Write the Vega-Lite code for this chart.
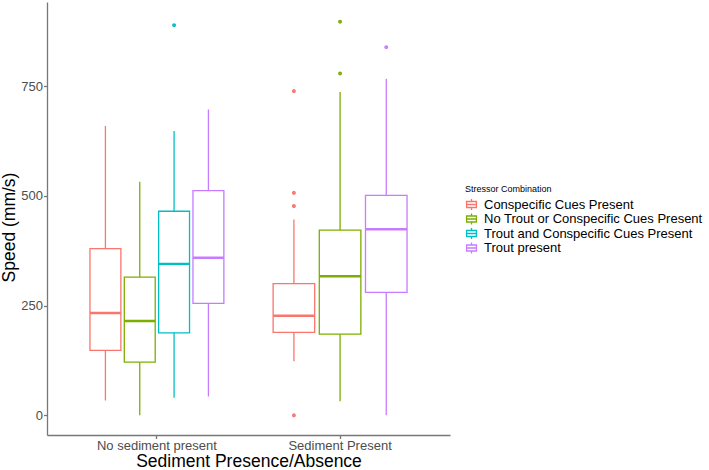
{
  "$schema": "https://vega.github.io/schema/vega-lite/v6.json",
  "width": 403,
  "height": 433,
  "autosize": "none",
  "padding": {"left": 47, "top": 2, "right": 259, "bottom": 35},
  "background": "white",
  "datasets": {
    "stats": [
      {"sed": "No sediment present", "grp": "Conspecific Cues Present", "lo": 34, "q1": 148, "med": 233, "q3": 380, "hi": 659},
      {"sed": "No sediment present", "grp": "No Trout or Conspecific Cues Present", "lo": 0, "q1": 121, "med": 215, "q3": 315, "hi": 532},
      {"sed": "No sediment present", "grp": "Trout and Conspecific Cues Present", "lo": 40, "q1": 188, "med": 345, "q3": 465, "hi": 648},
      {"sed": "No sediment present", "grp": "Trout present", "lo": 43, "q1": 255, "med": 359, "q3": 512, "hi": 697},
      {"sed": "Sediment Present", "grp": "Conspecific Cues Present", "lo": 123, "q1": 189, "med": 227, "q3": 300, "hi": 446},
      {"sed": "Sediment Present", "grp": "No Trout or Conspecific Cues Present", "lo": 32, "q1": 185, "med": 317, "q3": 422, "hi": 737},
      {"sed": "Sediment Present", "grp": "Trout present", "lo": 0, "q1": 280, "med": 424, "q3": 501, "hi": 767}
    ],
    "out": [
      {"sed": "No sediment present", "grp": "Trout and Conspecific Cues Present", "v": 889},
      {"sed": "Sediment Present", "grp": "Conspecific Cues Present", "v": 739},
      {"sed": "Sediment Present", "grp": "Conspecific Cues Present", "v": 507},
      {"sed": "Sediment Present", "grp": "Conspecific Cues Present", "v": 477},
      {"sed": "Sediment Present", "grp": "Conspecific Cues Present", "v": 0},
      {"sed": "Sediment Present", "grp": "No Trout or Conspecific Cues Present", "v": 897},
      {"sed": "Sediment Present", "grp": "No Trout or Conspecific Cues Present", "v": 779},
      {"sed": "Sediment Present", "grp": "Trout present", "v": 839}
    ]
  },
  "layer": [
    {
      "layer": [
        {
          "data": {"name": "stats"},
          "transform": [{"filter": "datum.sed === 'No sediment present'"}],
          "mark": {"type": "rule", "strokeWidth": 1.3},
          "encoding": {
            "x": {"field": "sed", "type": "nominal", "scale": {"type": "band", "domain": ["No sediment present", "Sediment Present"], "paddingInner": 0.269, "paddingOuter": 0.2346}, "title": "Sediment Presence/Absence", "axis": {"labelAngle": 0, "bandPosition": 0.5, "titleBaseline": "alphabetic", "titleY": 31.5}},
            "xOffset": {"field": "grp", "type": "nominal", "scale": {"paddingInner": 0.1, "paddingOuter": 0}},
            "y": {"field": "lo", "type": "quantitative", "scale": {"domain": [-44.85, 941.85], "nice": false, "zero": false}, "title": "Speed (mm/s)", "axis": {"values": [0, 250, 500, 750], "titleBaseline": "alphabetic", "titleX": -33, "titleY": 225, "titleAlign": "center"}},
            "y2": {"field": "hi"},
            "stroke": {"field": "grp", "type": "nominal", "scale": {"domain": ["Conspecific Cues Present", "No Trout or Conspecific Cues Present", "Trout and Conspecific Cues Present", "Trout present"], "range": ["#F8766D", "#7CAE00", "#00BFC4", "#C77CFF"]}, "title": "Stressor Combination"}
          }
        },
        {
          "data": {"name": "stats"},
          "transform": [{"filter": "datum.sed === 'No sediment present'"}],
          "mark": {"type": "bar", "fill": "white", "strokeWidth": 1.3},
          "encoding": {
            "x": {"field": "sed", "type": "nominal"},
            "xOffset": {"field": "grp", "type": "nominal", "scale": {"paddingInner": 0.1, "paddingOuter": 0}},
            "y": {"field": "q1", "type": "quantitative"},
            "y2": {"field": "q3"},
            "stroke": {"field": "grp", "type": "nominal", "title": "Stressor Combination"}
          }
        },
        {
          "data": {"name": "stats"},
          "transform": [{"filter": "datum.sed === 'No sediment present'"}],
          "mark": {"type": "bar", "fill": "white", "strokeWidth": 2.4},
          "encoding": {
            "x": {"field": "sed", "type": "nominal"},
            "xOffset": {"field": "grp", "type": "nominal", "scale": {"paddingInner": 0.1, "paddingOuter": 0}},
            "y": {"field": "med", "type": "quantitative"},
            "y2": {"field": "med"},
            "stroke": {"field": "grp", "type": "nominal", "title": "Stressor Combination"}
          }
        },
        {
          "data": {"name": "out"},
          "transform": [{"filter": "datum.sed === 'No sediment present'"}],
          "mark": {"type": "point", "filled": false, "shape": "circle", "size": 3, "strokeWidth": 2.2, "opacity": 1},
          "encoding": {
            "x": {"field": "sed", "type": "nominal"},
            "xOffset": {"field": "grp", "type": "nominal", "scale": {"paddingInner": 0.1, "paddingOuter": 0}},
            "y": {"field": "v", "type": "quantitative"},
            "stroke": {"field": "grp", "type": "nominal", "title": "Stressor Combination"}
          }
        }
      ]
    },
    {
      "layer": [
        {
          "data": {"name": "stats"},
          "transform": [{"filter": "datum.sed === 'Sediment Present'"}],
          "mark": {"type": "rule", "strokeWidth": 1.3},
          "encoding": {
            "x": {"field": "sed", "type": "nominal"},
            "xOffset": {"field": "grp", "type": "nominal", "scale": {"paddingInner": 0.1, "paddingOuter": 0}},
            "y": {"field": "lo", "type": "quantitative"},
            "y2": {"field": "hi"},
            "stroke": {"field": "grp", "type": "nominal", "title": "Stressor Combination"}
          }
        },
        {
          "data": {"name": "stats"},
          "transform": [{"filter": "datum.sed === 'Sediment Present'"}],
          "mark": {"type": "bar", "fill": "white", "strokeWidth": 1.3},
          "encoding": {
            "x": {"field": "sed", "type": "nominal"},
            "xOffset": {"field": "grp", "type": "nominal", "scale": {"paddingInner": 0.1, "paddingOuter": 0}},
            "y": {"field": "q1", "type": "quantitative"},
            "y2": {"field": "q3"},
            "stroke": {"field": "grp", "type": "nominal", "title": "Stressor Combination"}
          }
        },
        {
          "data": {"name": "stats"},
          "transform": [{"filter": "datum.sed === 'Sediment Present'"}],
          "mark": {"type": "bar", "fill": "white", "strokeWidth": 2.4},
          "encoding": {
            "x": {"field": "sed", "type": "nominal"},
            "xOffset": {"field": "grp", "type": "nominal", "scale": {"paddingInner": 0.1, "paddingOuter": 0}},
            "y": {"field": "med", "type": "quantitative"},
            "y2": {"field": "med"},
            "stroke": {"field": "grp", "type": "nominal", "title": "Stressor Combination"}
          }
        },
        {
          "data": {"name": "out"},
          "transform": [{"filter": "datum.sed === 'Sediment Present'"}],
          "mark": {"type": "point", "filled": false, "shape": "circle", "size": 3, "strokeWidth": 2.2, "opacity": 1},
          "encoding": {
            "x": {"field": "sed", "type": "nominal"},
            "xOffset": {"field": "grp", "type": "nominal", "scale": {"paddingInner": 0.1, "paddingOuter": 0}},
            "y": {"field": "v", "type": "quantitative"},
            "stroke": {"field": "grp", "type": "nominal", "title": "Stressor Combination"}
          }
        }
      ]
    }
  ],
  "resolve": {"scale": {"xOffset": "independent"}},
  "config": {
    "view": {"stroke": null},
    "font": "Liberation Sans",
    "axis": {
      "grid": false,
      "domainColor": "#777777",
      "tickColor": "#777777",
      "domainWidth": 1.3,
      "tickWidth": 1.3,
      "tickSize": 3.5,
      "labelColor": "#4D4D4D",
      "labelFontSize": 13,
      "labelPadding": 1,
      "titleFontSize": 17.5,
      "titleFontWeight": "normal",
      "titleColor": "black"
    },
    "legend": {
      "orient": "none",
      "legendX": 418,
      "legendY": 183,
      "titleFontSize": 9,
      "titleFontWeight": "normal",
      "titleColor": "black",
      "titlePadding": 4,
      "titleLimit": 0,
      "labelFontSize": 13,
      "labelColor": "black",
      "labelLimit": 0,
      "labelOffset": 6,
      "rowPadding": 0.5,
      "clipHeight": 13,
      "symbolSize": 120,
      "symbolType": "M-0.9,-0.55H0.9V0.55H-0.9Z M-0.9,0H0.9 M0,-0.55V-1 M0,0.55V1",
      "symbolFillColor": "white",
      "symbolStrokeWidth": 1.3
    }
  }
}
